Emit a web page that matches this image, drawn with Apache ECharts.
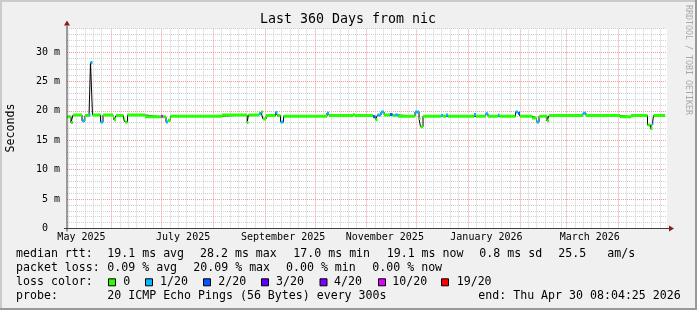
<!DOCTYPE html>
<html><head><meta charset="utf-8">
<script src="https://cdn.jsdelivr.net/npm/echarts@6/dist/echarts.min.js"></script>
<style>html,body{margin:0;padding:0;background:#f0f0f0}#c{width:697px;height:310px}</style>
</head><body><div id="c"></div>
<script>
// ---------- data ----------
const titleText = 'Last 360 Days from nic';
const yAxisName = 'Seconds';
const watermark = 'RRDTOOL / TOBI OETIKER';
const yMax = 34;                       // milliseconds
const startUTC = Date.UTC(2025, 4, 5, 8, 4, 25);
const spanDays = 360;
// median rtt segments: start (days since start), median (ms), loss class (index into lossColors)
const segDay = [0, 2.4, 3.6, 9.0, 10.8, 13.2, 14.1, 15.3, 20.1, 21.6, 27.6, 28.2, 29.4, 33.9, 34.8, 36.3, 46.8,
  56.4, 57.6, 59.4, 60.6, 62.1, 93.0, 108.0, 108.9, 115.2, 116.4, 117.6, 119.4, 125.1, 126.3, 128.1, 129.9,
  156.0, 157.2, 171.6, 172.5, 183.6, 185.1, 186.3, 188.4, 190.2, 193.8, 195.3, 196.8, 198.6, 208.8, 211.2,
  212.1, 213.6, 224.4, 225.6, 227.4, 228.6, 244.2, 245.4, 251.1, 252.6, 258.6, 259.5, 269.1, 270.6, 271.8,
  279.0, 281.7, 283.2, 288.0, 289.2, 309.6, 311.4, 331.8, 338.4, 348.3, 350.1, 351.3, 351.9];
const segMedian = [19.0, 18.0, 19.3, 18.3, 19.2, 19.3, 28.2, 19.3, 18.1, 19.3, 19.0, 18.5, 19.2, 18.6, 18.1, 19.3, 19.0,
  19.1, 19.0, 18.1, 18.4, 19.1, 19.3, 18.0, 19.3, 19.5, 19.8, 18.6, 19.2, 19.7, 19.2, 18.1, 19.1,
  19.6, 19.2, 19.4, 19.2, 19.0, 18.5, 19.3, 19.8, 19.3, 19.4, 19.2, 19.3, 19.1, 19.8, 18.7,
  17.3, 19.1, 19.2, 19.1, 19.3, 19.1, 19.4, 19.1, 19.5, 19.1, 19.3, 19.1, 19.8, 19.6, 19.1,
  18.8, 18.1, 19.1, 18.3, 19.2, 19.6, 19.2, 19.0, 19.2, 17.6, 17.0, 17.9, 19.2];
const segLoss = [0, 0, 0, 1, 0, 1, 1, 0, 1, 0, 0, 0, 0, 0, 0, 0, 0,
  5, 0, 1, 0, 0, 0, 0, 0, 1, 0, 0, 0, 1, 0, 1, 0,
  1, 0, 0, 0, 2, 0, 1, 1, 0, 2, 0, 1, 0, 1, 0,
  0, 0, 1, 0, 1, 0, 1, 0, 1, 0, 1, 0, 1, 2, 0,
  0, 1, 0, 0, 0, 1, 0, 0, 0, 0, 0, 1, 0];
const dataEndDay = 358.8;
const lossLabels = ['0', '1/20', '2/20', '3/20', '4/20', '10/20', '19/20'];
const lossColors = ['#26ff00', '#00b8ff', '#0059ff', '#5e00ff', '#7e00ff', '#dd00ff', '#ff0000'];
const gridMonths = ['2025-05', '2025-06', '2025-07', '2025-08', '2025-09', '2025-10', '2025-11', '2025-12',
  '2026-01', '2026-02', '2026-03', '2026-04'];
const minorGridDays = [6, 11, 16, 21, 26];
const monthLabels = ['May 2025', 'July 2025', 'September 2025', 'November 2025', 'January 2026', 'March 2026'];
const monthLabelDates = ['2025-05-14', '2025-07-14', '2025-09-12', '2025-11-12', '2026-01-12', '2026-03-15'];
const rttLabel = 'median rtt:';
const rttStats = ['19.1 ms avg', '28.2 ms max', '17.0 ms min', '19.1 ms now', '0.8 ms sd', '25.5', 'am/s'];
const lossLabel = 'packet loss:';
const lossStats = ['0.09 % avg', '20.09 % max', '0.00 % min', '0.00 % now'];
const colorLabel = 'loss color:';
const probeLabel = 'probe:';
const probeText = '20 ICMP Echo Pings (56 Bytes) every 300s';
const endText = 'end: Thu Apr 30 08:04:25 2026';

// ---------- layout / style ----------
const FONT = '"DejaVu Sans Mono", monospace';
const GRAY = '#cfcfcf', RED = '#f29a9a';
const dayOf = s => (Date.parse(s + 'T00:00:00Z') - startUTC) / 86400000;
const segEnd = i => (i + 1 < segDay.length ? segDay[i + 1] : dataEndDay);

const blackData = [];
segDay.forEach((d, i) => { blackData.push([d, segMedian[i]], [segEnd(i), segMedian[i]]); });

const colorSeries = lossColors.map((c, k) => {
  const data = [];
  segDay.forEach((d, i) => {
    if (segLoss[i] === k) data.push([d, segMedian[i]], [segEnd(i), segMedian[i]], [segEnd(i), null]);
  });
  return { type: 'line', data, symbol: 'none', connectNulls: false, silent: true, animation: false, z: 5,
    lineStyle: { color: c, width: 3, cap: 'butt' } };
}).filter(s => s.data.length);

const vLines = [];
gridMonths.forEach(m => {
  const d1 = dayOf(m + '-01');
  if (d1 >= 0 && d1 <= spanDays) vLines.push({ xAxis: d1, lineStyle: { color: RED, type: [1, 1], width: 1 } });
  minorGridDays.forEach(dd => {
    const d = dayOf(m + '-' + String(dd).padStart(2, '0'));
    if (d >= 0 && d <= spanDays) vLines.push({ xAxis: d, lineStyle: { color: GRAY, type: [1, 1], width: 1 } });
  });
});

const chart = echarts.init(document.getElementById('c'), null, { renderer: 'canvas', width: 697, height: 310 });
chart.setOption({
  animation: false,
  backgroundColor: '#f0f0f0',
  grid: { left: 67, top: 28.5, width: 600, height: 200, show: true, backgroundColor: '#ffffff', borderWidth: 0 },
  xAxis: { type: 'value', min: 0, max: spanDays, axisLine: { show: false }, axisTick: { show: false },
    axisLabel: { show: false }, splitLine: { show: false } },
  yAxis: { type: 'value', min: 0, max: yMax, interval: 1, axisLine: { show: false }, axisTick: { show: false },
    axisLabel: { formatter: v => (v % 5 === 0 ? (v === 0 ? '0  ' : v + ' m') : ''), fontFamily: FONT, fontSize: 10, color: '#000', margin: 7 },
    splitLine: { show: true, lineStyle: { color: [RED, GRAY, GRAY, GRAY, GRAY], type: [1, 1], width: 1 } } },
  series: [
    { type: 'line', data: [], z: 1, silent: true,
      markLine: { silent: true, symbol: ['none', 'none'], label: { show: false }, animation: false, data: vLines } },
    { type: 'line', data: blackData, symbol: 'none', silent: true, z: 4, lineStyle: { color: '#000', width: 1 } },
    ...colorSeries
  ]
});

// ---------- axes, text ----------
const P = (x, y) => chart.convertToPixel({ gridIndex: 0 }, [x, y]);
const pO = P(0, 0), pTop = P(0, yMax), pRight = P(spanDays, 0);
const g = [];
g.push({ type: 'line', shape: { x1: pO[0], y1: pO[1] + 3, x2: pTop[0], y2: pTop[1] - 3 }, style: { stroke: '#404040', lineWidth: 1 }, z: 10 });
g.push({ type: 'line', shape: { x1: pO[0] - 3, y1: pO[1], x2: pRight[0] + 2, y2: pRight[1] }, style: { stroke: '#404040', lineWidth: 1 }, z: 10 });
g.push({ type: 'polygon', shape: { points: [[pTop[0] - 3, pTop[1] - 3], [pTop[0] + 3, pTop[1] - 3], [pTop[0], pTop[1] - 8]] }, style: { fill: '#8b1c1c' }, z: 11 });
g.push({ type: 'polygon', shape: { points: [[pRight[0] + 2, pRight[1] - 3], [pRight[0] + 2, pRight[1] + 3], [pRight[0] + 7, pRight[1]]] }, style: { fill: '#8b1c1c' }, z: 11 });
monthLabels.forEach((t, i) => {
  const p = P(dayOf(monthLabelDates[i]), 0);
  g.push({ type: 'text', x: p[0], y: p[1] + 8.5, style: { text: t, fontFamily: FONT, fontSize: 10, fill: '#000', align: 'center', verticalAlign: 'middle' }, z: 10 });
});
const txt = (t, x, y) => ({ type: 'text', x, y, style: { text: t, fontFamily: FONT, fontSize: 11.6, fill: '#000', align: 'left', verticalAlign: 'middle' }, z: 10 });
g.push({ type: 'text', x: 348, y: 19.5, style: { text: titleText, fontFamily: FONT, fontSize: 13.3, fill: '#000', align: 'center', verticalAlign: 'middle' }, z: 10 });
g.push({ type: 'text', x: 10.5, y: 128, rotation: Math.PI / 2, style: { text: yAxisName, fontFamily: FONT, fontSize: 11.6, fill: '#000', align: 'center', verticalAlign: 'middle' }, z: 10 });
g.push({ type: 'text', x: 688, y: 60, rotation: -Math.PI / 2, style: { text: watermark, fontFamily: FONT, fontSize: 8.3, fill: '#a8a8a8', align: 'center', verticalAlign: 'middle' }, z: 10 });
// legend rows
const rowY = [254.3, 268.3, 282.3, 296];
g.push(txt(rttLabel, 16, rowY[0]));
[107.3, 200, 293.3, 386.7, 479.3, 558.3, 607.3].forEach((x, i) => g.push(txt(rttStats[i], x, rowY[0])));
g.push(txt(lossLabel, 16, rowY[1]));
[107.3, 193.3, 286, 372.3].forEach((x, i) => g.push(txt(lossStats[i], x, rowY[1])));
g.push(txt(colorLabel, 16, rowY[2]));
const boxX = [108.5, 145.5, 203.5, 261.5, 320, 378.5, 441.5];
const lblX = [123.3, 160, 218.3, 276, 334, 392.3, 456.7];
lossColors.forEach((c, i) => {
  g.push({ type: 'rect', shape: { x: boxX[i], y: rowY[2] - 3.5, width: 7, height: 7 }, style: { fill: c, stroke: '#000', lineWidth: 1 }, z: 10 });
  g.push(txt(lossLabels[i], lblX[i], rowY[2]));
});
g.push(txt(probeLabel, 16, rowY[3]));
g.push(txt(probeText, 107.3, rowY[3]));
g.push(txt(endText, 478.3, rowY[3]));
// frame
g.push({ type: 'rect', shape: { x: 0, y: 0, width: 697, height: 2 }, style: { fill: '#cbcbcb' }, z: 12 });
g.push({ type: 'rect', shape: { x: 0, y: 0, width: 2, height: 310 }, style: { fill: '#cbcbcb' }, z: 12 });
g.push({ type: 'rect', shape: { x: 0, y: 308, width: 697, height: 2 }, style: { fill: '#999999' }, z: 12 });
g.push({ type: 'rect', shape: { x: 695, y: 0, width: 2, height: 310 }, style: { fill: '#999999' }, z: 12 });
chart.setOption({ graphic: g });
</script></body></html>
